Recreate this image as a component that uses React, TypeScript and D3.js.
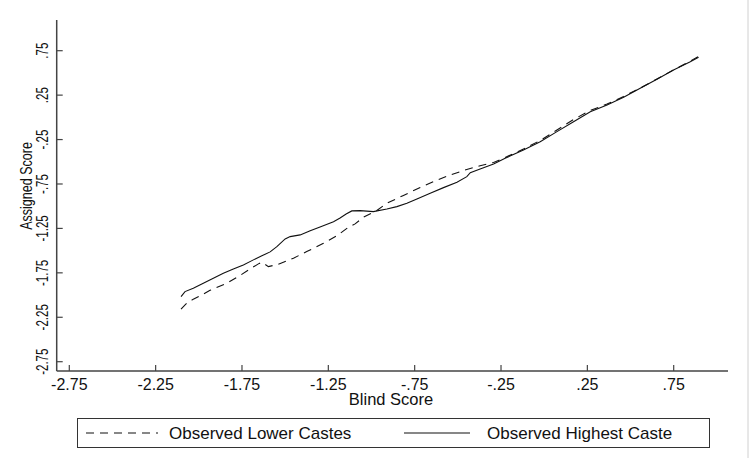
import React from "react";
import * as d3 from "d3";

// Observed Lower Castes (dashed)
const blindLower = [-2.103, -2.074, -2.032, -1.993, -1.935, -1.838, -1.761, -1.703, -1.655, -1.635, -1.616, -1.597, -1.539, -1.452, -1.375, -1.278, -1.201, -1.135, -1.095, -1.047, -0.969, -0.911, -0.815, -0.718, -0.641, -0.554, -0.467, -0.371, -0.293, -0.226, -0.12, -0.023, 0.074, 0.17, 0.267, 0.364, 0.46, 0.556, 0.653, 0.749, 0.846, 0.894];
const assignedLower = [-2.159, -2.099, -2.046, -2.009, -1.947, -1.866, -1.779, -1.706, -1.649, -1.632, -1.655, -1.68, -1.653, -1.585, -1.511, -1.416, -1.334, -1.239, -1.199, -1.124, -1.048, -0.967, -0.879, -0.789, -0.724, -0.656, -0.598, -0.544, -0.508, -0.451, -0.356, -0.26, -0.142, -0.024, 0.077, 0.15, 0.235, 0.33, 0.432, 0.533, 0.634, 0.685];

// Observed Highest Caste (solid)
const blindHighest = [-2.103, -2.08, -2.032, -1.974, -1.916, -1.858, -1.8, -1.742, -1.684, -1.635, -1.587, -1.548, -1.5, -1.471, -1.413, -1.355, -1.298, -1.22, -1.182, -1.147, -1.114, -1.066, -0.989, -0.911, -0.853, -0.795, -0.737, -0.66, -0.583, -0.505, -0.448, -0.428, -0.371, -0.293, -0.226, -0.12, -0.023, 0.074, 0.17, 0.267, 0.364, 0.46, 0.556, 0.653, 0.749, 0.846, 0.894];
const assignedHighest = [-2.017, -1.961, -1.923, -1.866, -1.81, -1.754, -1.706, -1.661, -1.604, -1.559, -1.514, -1.455, -1.368, -1.342, -1.323, -1.275, -1.233, -1.174, -1.132, -1.087, -1.053, -1.05, -1.061, -1.031, -1.005, -0.967, -0.918, -0.854, -0.791, -0.73, -0.667, -0.622, -0.581, -0.524, -0.46, -0.367, -0.274, -0.161, -0.049, 0.064, 0.139, 0.226, 0.327, 0.428, 0.533, 0.626, 0.676];

const tickValues = [-2.75, -2.25, -1.75, -1.25, -0.75, -0.25, 0.25, 0.75];
const tickLabels = ["-2.75", "-2.25", "-1.75", "-1.25", "-.75", "-.25", ".25", ".75"];
const seriesNames = ["Observed Lower Castes", "Observed Highest Caste"];
const xTitle = "Blind Score";
const yTitle = "Assigned Score";

const FONT = "'Liberation Sans', Arial, Helvetica, sans-serif";

export default function App() {
  const W = 754;
  const H = 458;
  const x = d3.scaleLinear().domain([-2.75, 0.75]).range([69.3, 673.7]);
  const y = d3.scaleLinear().domain([-2.75, 0.75]).range([361.7, 50.7]);
  const axL = 56.7, axR = 728, axT = 20, axB = 371;

  const mkLine = (xs: number[], ys: number[]) =>
    d3.line<number>()
      .x((_, i) => x(xs[i]))
      .y((_, i) => y(ys[i]))(xs) || "";

  const axisColor = "#444";

  return (
    <svg width={W} height={H} style={{ position: "absolute", left: 0, top: 0, background: "#fff" }} fontFamily={FONT}>
      <rect x={0} y={0} width={W} height={H} fill="#fff" />
      <line x1={748} x2={748} y1={0} y2={H} stroke="#d0d0d0" strokeWidth={1} />

      {/* axes */}
      <line x1={axL} x2={axL} y1={axT} y2={axB} stroke={axisColor} strokeWidth={1.5} />
      <line x1={axL} x2={axR} y1={axB} y2={axB} stroke={axisColor} strokeWidth={1.5} />

      {tickValues.map((v, i) => (
        <g key={"xt" + i}>
          <line x1={x(v)} x2={x(v)} y1={axB} y2={axB - 6} stroke={axisColor} strokeWidth={1.2} />
          <text x={x(v)} y={390} textAnchor="middle" fontSize={16} fill="#111">{tickLabels[i]}</text>
        </g>
      ))}
      {tickValues.map((v, i) => (
        <g key={"yt" + i}>
          <line x1={axL} x2={axL + 6} y1={y(v)} y2={y(v)} stroke={axisColor} strokeWidth={1.2} />
          <text transform={`translate(48.3,${y(v)}) rotate(-90) scale(0.72,1)`} textAnchor="middle" fontSize={16} fill="#111">{tickLabels[i]}</text>
        </g>
      ))}

      <text x={391} y={405} textAnchor="middle" fontSize={16.5} fill="#111">{xTitle}</text>
      <text transform={`translate(31.5,186) rotate(-90) scale(0.76,1)`} textAnchor="middle" fontSize={16.5} fill="#111">{yTitle}</text>

      {/* data */}
      <path d={mkLine(blindLower, assignedLower)} fill="none" stroke="#111" strokeWidth={1.1} strokeDasharray="8,6" />
      <path d={mkLine(blindHighest, assignedHighest)} fill="none" stroke="#111" strokeWidth={1.1} />

      {/* legend */}
      <rect x={77.5} y={418.5} width={632} height={29} fill="#fff" stroke="#333" strokeWidth={1} />
      <line x1={86} x2={158} y1={433} y2={433} stroke="#111" strokeWidth={1.1} strokeDasharray="8,6" />
      <text x={169} y={439} fontSize={17} fill="#111">{seriesNames[0]}</text>
      <line x1={404} x2={470} y1={433} y2={433} stroke="#111" strokeWidth={1.1} />
      <text x={487} y={439} fontSize={17} fill="#111">{seriesNames[1]}</text>
    </svg>
  );
}
